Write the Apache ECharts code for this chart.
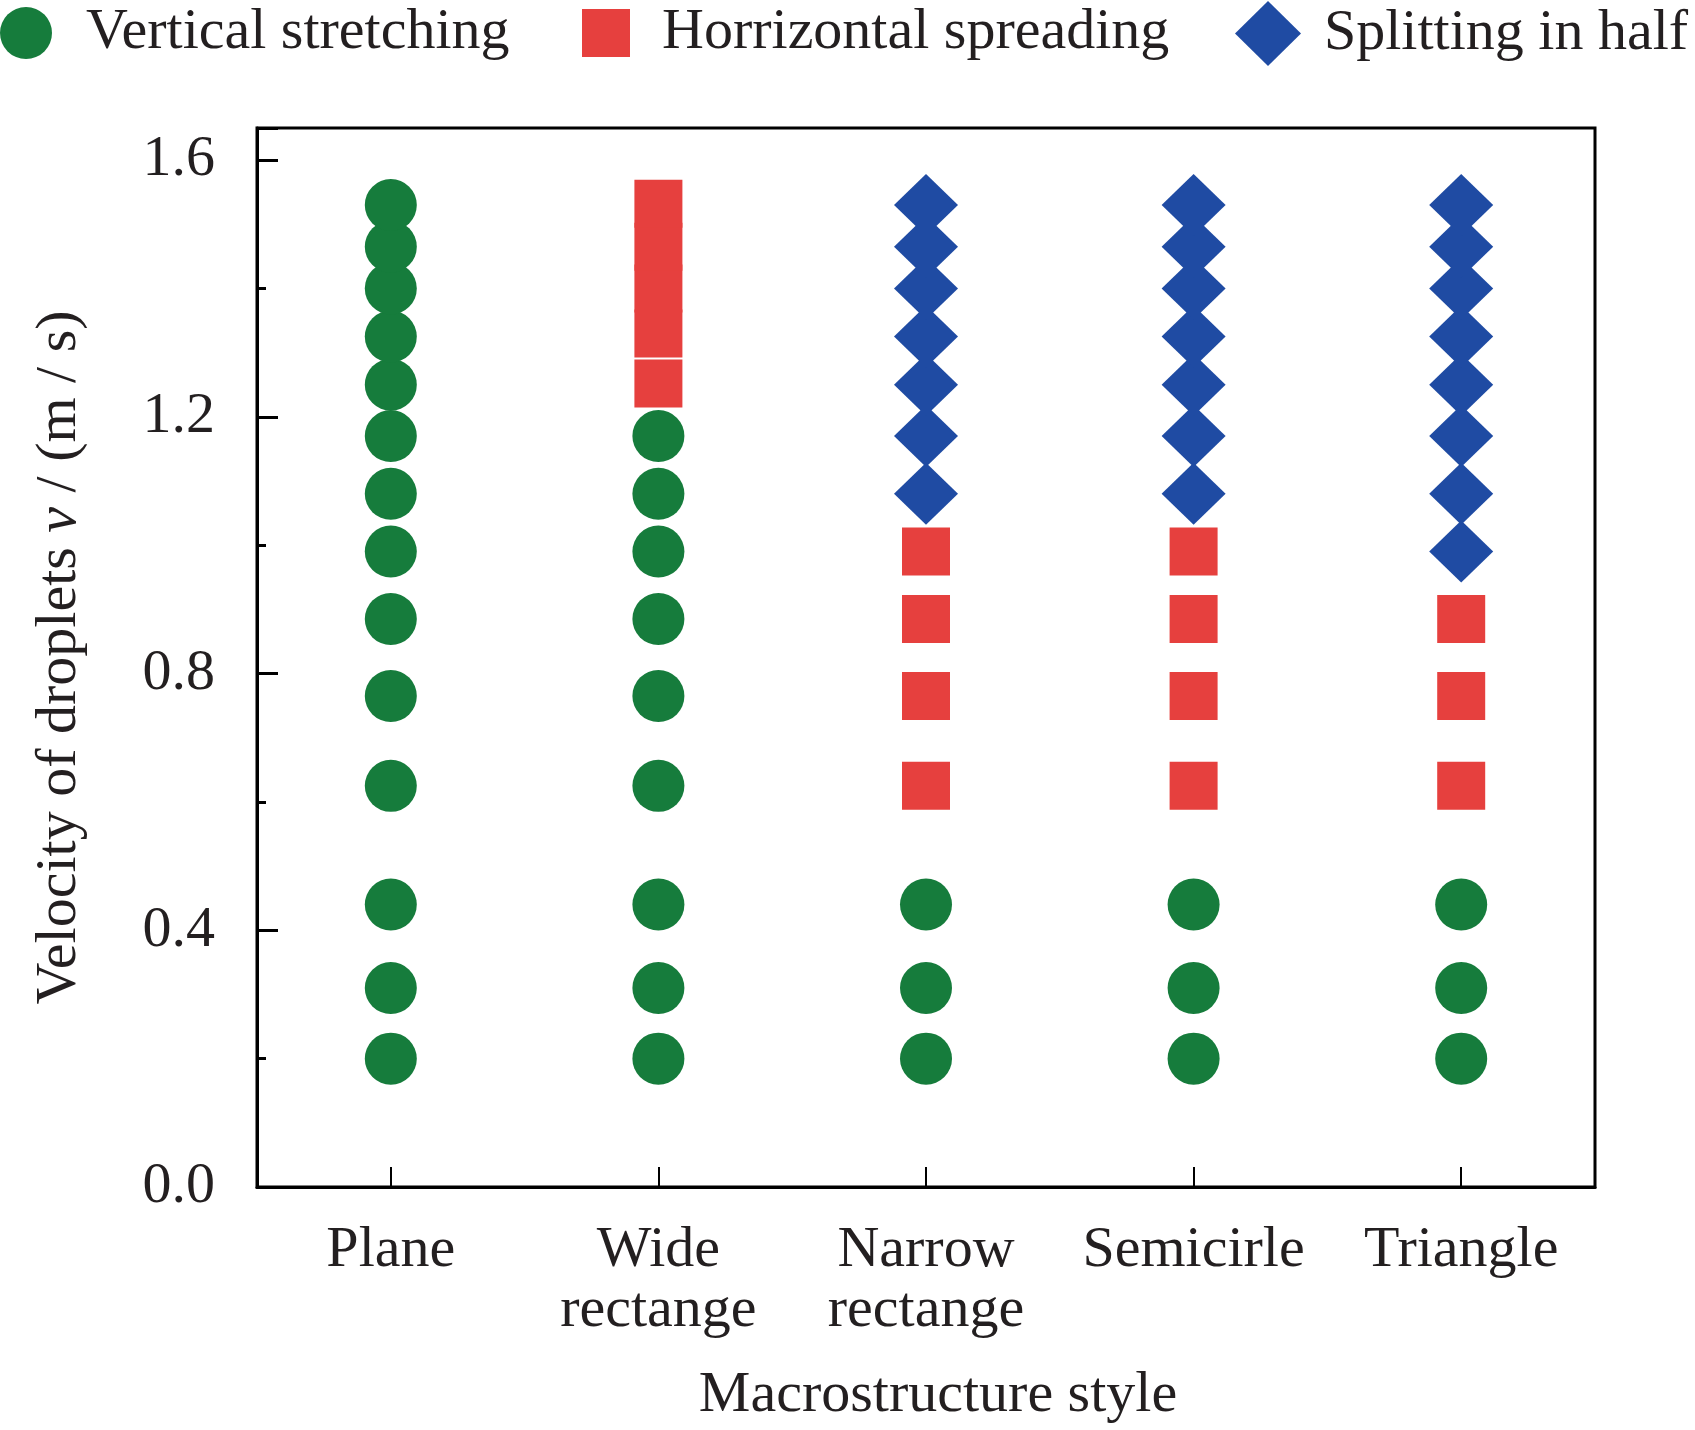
<!DOCTYPE html>
<html>
<head>
<meta charset="utf-8">
<script src="https://cdn.jsdelivr.net/npm/echarts@6/dist/echarts.min.js"></script>
<style>html,body{margin:0;padding:0;background:#fff}#c{width:1695px;height:1430px}</style>
</head>
<body>
<div id="c"></div>
<script>
var categories = ['Plane', 'Wide\nrectange', 'Narrow\nrectange', 'Semicirle', 'Triangle'];
var yTicks = [0.0, 0.4, 0.8, 1.2, 1.6];
var seriesNames = ['Vertical stretching', 'Horrizontal spreading', 'Splitting in half'];

// values per category (Plane, Wide rectange, Narrow rectange, Semicirle, Triangle)
var verticalStretching = [
  [0.20, 0.31, 0.44, 0.625, 0.765, 0.885, 0.99, 1.08, 1.17, 1.25, 1.325, 1.40, 1.465, 1.53],
  [0.20, 0.31, 0.44, 0.625, 0.765, 0.885, 0.99, 1.08, 1.17],
  [0.20, 0.31, 0.44],
  [0.20, 0.31, 0.44],
  [0.20, 0.31, 0.44]
];
var horizontalSpreading = [
  [],
  [1.252, 1.33, 1.40, 1.465, 1.532],
  [0.625, 0.765, 0.885, 0.99],
  [0.625, 0.765, 0.885, 0.99],
  [0.625, 0.765, 0.885]
];
var splittingInHalf = [
  [],
  [],
  [1.08, 1.17, 1.25, 1.325, 1.40, 1.465, 1.53],
  [1.08, 1.17, 1.25, 1.325, 1.40, 1.465, 1.53],
  [0.99, 1.08, 1.17, 1.25, 1.325, 1.40, 1.465, 1.53]
];

function toPoints(groups) {
  var out = [];
  groups.forEach(function (vals, ci) {
    vals.forEach(function (v) { out.push([ci, v]); });
  });
  return out;
}

var FONT = 'Liberation Serif';
var FS = 58;
var TXT = '#231f20';
var GREEN = '#167c3c';
var RED = '#e6403e';
var BLUE = '#1f4ba3';

function legendText(pad) {
  return {fontFamily: FONT, fontSize: FS, color: TXT, padding: [0, 0, 0, pad]};
}

var chart = echarts.init(document.getElementById('c'), null, {renderer: 'canvas'});
chart.setOption({
  backgroundColor: '#fff',
  animation: false,
  legend: [
    {data: [seriesNames[0]], left: 0, top: 4, padding: 0, itemWidth: 52, itemHeight: 52, textStyle: legendText(29), selectedMode: false},
    {data: [seriesNames[1]], left: 582, top: 4, padding: 0, itemWidth: 48, itemHeight: 48, textStyle: legendText(27), selectedMode: false},
    {data: [seriesNames[2]], left: 1235, top: 1, padding: 0, itemWidth: 66, itemHeight: 65, textStyle: legendText(18), selectedMode: false}
  ],
  grid: {left: 257, right: 100, top: 128, bottom: 225, show: true, borderColor: '#000', borderWidth: 3, containLabel: false},
  xAxis: {
    type: 'category',
    data: categories,
    boundaryGap: true,
    name: 'Macrostructure style',
    nameLocation: 'middle',
    nameGap: 180,
    nameTextStyle: {fontFamily: FONT, fontSize: FS, color: TXT, padding: [0, 0, 0, 24]},
    axisLine: {show: true, lineStyle: {color: '#000', width: 3}},
    axisTick: {show: true, inside: true, alignWithLabel: true, length: 20, lineStyle: {color: '#000', width: 2}},
    axisLabel: {interval: 0, fontFamily: FONT, fontSize: FS, color: TXT, margin: 34, lineHeight: 60},
    splitLine: {show: false}
  },
  yAxis: [{
    type: 'value',
    min: 0,
    max: 1.65,
    interval: 0.4,
    name: 'Velocity of droplets {i|v} / (m / s)',
    nameLocation: 'middle',
    nameGap: 168,
    nameTextStyle: {fontFamily: FONT, fontSize: FS, color: TXT, rich: {i: {fontFamily: FONT, fontSize: FS, fontStyle: 'italic', color: TXT}}},
    axisLine: {show: true, lineStyle: {color: '#000', width: 3}},
    axisTick: {show: true, inside: true, length: 21, lineStyle: {color: '#000', width: 3}},
    axisLabel: {
      fontFamily: FONT, fontSize: FS, color: TXT, margin: 42,
      formatter: function (v) {
        for (var k = 0; k < yTicks.length; k++) { if (Math.abs(v - yTicks[k]) < 1e-6) return yTicks[k].toFixed(1); }
        return '';
      }
    },
    splitLine: {show: false}
  }, {
    type: 'value',
    min: 0,
    max: 1.65,
    interval: 0.2,
    position: 'left',
    axisLine: {show: false},
    axisTick: {show: true, inside: true, length: 9, lineStyle: {color: '#000', width: 3}},
    axisLabel: {show: false},
    splitLine: {show: false}
  }],
  series: [
    {name: seriesNames[0], type: 'scatter', symbol: 'circle', symbolSize: 52, itemStyle: {color: GREEN, opacity: 1}, data: toPoints(verticalStretching), z: 2},
    {name: seriesNames[1], type: 'scatter', symbol: 'rect', symbolSize: 48, itemStyle: {color: RED, opacity: 1}, data: toPoints(horizontalSpreading), z: 3},
    {name: seriesNames[2], type: 'scatter', symbol: 'diamond', symbolSize: [64, 62], itemStyle: {color: BLUE, opacity: 1}, data: toPoints(splittingInHalf), z: 4}
  ]
});
</script>
</body>
</html>
